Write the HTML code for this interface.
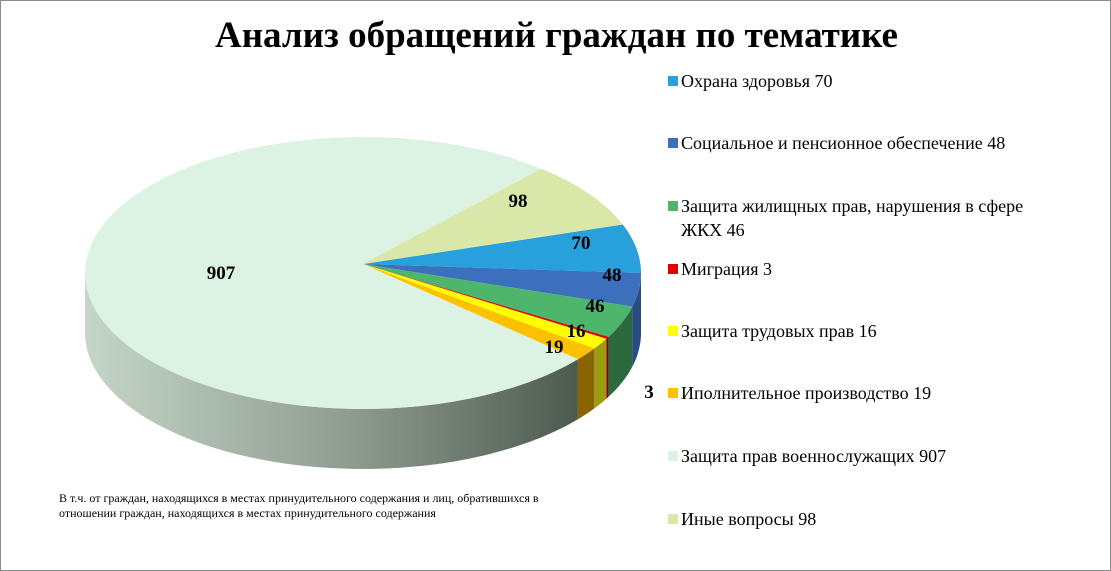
<!DOCTYPE html>
<html><head><meta charset="utf-8"><style>
body{margin:0;background:#fff}
#c{position:relative;width:1109px;height:569px;border:1px solid #8c8c8c;overflow:hidden;font-family:"Liberation Serif",serif}
.t{position:absolute;left:0;width:1111px;top:13px;text-align:center;font-weight:bold;font-size:37px}
.lg{position:absolute;left:667px;font-size:18px;line-height:24px;color:#000}
.lg i{position:absolute;left:0;top:7px;width:10px;height:10px}
.lg span{display:block;margin-left:13px;width:375px}
.fn{position:absolute;left:58px;top:490px;font-family:"Liberation Serif",serif;font-size:12px;line-height:15px}
</style></head><body><div id="c">
<div class="t">Анализ обращений граждан по тематике</div>
<svg id="s" width="1111" height="571" style="position:absolute;left:0;top:0"></svg>
<div class="lg" style="top:68px"><i style="background:#27a0dc"></i><span>Охрана здоровья 70</span></div>
<div class="lg" style="top:130px"><i style="background:#3c6fbc"></i><span>Социальное и пенсионное обеспечение 48</span></div>
<div class="lg" style="top:193px"><i style="background:#4db56c"></i><span>Защита жилищных прав, нарушения в сфере<br>ЖКХ 46</span></div>
<div class="lg" style="top:256px"><i style="background:#e00000"></i><span>Миграция 3</span></div>
<div class="lg" style="top:318px"><i style="background:#ffff00"></i><span>Защита трудовых прав 16</span></div>
<div class="lg" style="top:380px"><i style="background:#ffc000"></i><span>Иполнительное производство 19</span></div>
<div class="lg" style="top:443px"><i style="background:#dcf2e2"></i><span>Защита прав военнослужащих 907</span></div>
<div class="lg" style="top:506px"><i style="background:#d9e8a8"></i><span>Иные вопросы 98</span></div>
<div class="fn">В т.ч. от граждан, находящихся в местах принудительного содержания и лиц, обратившихся в<br>отношении граждан, находящихся в местах принудительного содержания</div>
</div>
<script>
var s=document.getElementById('s'),cx=362,cy=272,rx=278,ry=136,d=60;
var data=[[70,'#27a0dc','#1a6f9a'],[48,'#3c6fbc','#284d85'],[46,'#4db56c','#2c6a3e'],[3,'#e00000','#8a0000'],[16,'#ffff00','#9c9c10'],[19,'#ffc000','#8a6400'],[907,'#dcf2e2','g'],[98,'#d9e8a8','#8a9a60']];
var tot=0;data.forEach(function(x){tot+=x[0]});
var h='<defs><linearGradient id="g" x1="0" x2="1"><stop offset="0" stop-color="#c4d6c8"/><stop offset="0.55" stop-color="#8e9a90"/><stop offset="1" stop-color="#4d5a50"/></linearGradient></defs>';
function P(a,dy){return (cx+rx*Math.cos(a)).toFixed(1)+','+(cy+dy+ry*Math.sin(a)).toFixed(1)}
var a=-70/tot*2*Math.PI,sl=[];
data.forEach(function(x){var b=a+x[0]/tot*2*Math.PI;sl.push([a,b,x]);a=b});
sl.forEach(function(q){
 var lo=Math.max(q[0],0),hi=Math.min(q[1],Math.PI);
 var lo2=Math.max(q[0],2*Math.PI),hi2=Math.min(q[1],3*Math.PI);
 [[lo,hi],[lo2,hi2]].forEach(function(r){if(r[1]<=r[0])return;
  var pts=[],n=40,i;for(i=0;i<=n;i++)pts.push(P(r[0]+(r[1]-r[0])*i/n,0));
  for(i=n;i>=0;i--)pts.push(P(r[0]+(r[1]-r[0])*i/n,d));
  var f=q[2][2]=='g'?'url(#g)':q[2][2];
  h+='<polygon points="'+pts.join(' ')+'" fill="'+f+'"/>';});
});
var ax=cx,ay=263;
sl.forEach(function(q){var pts=[ax+','+ay],n=60;
 for(var i=0;i<=n;i++)pts.push(P(q[0]+(q[1]-q[0])*i/n,0));
 h+='<polygon points="'+pts.join(' ')+'" fill="'+q[2][1]+'"/>';});
var L=[[98,517,206],[70,580,248],[48,611,280],[46,594,311],[16,575,336],[19,553,352],[3,648,397],[907,220,278]];
L.forEach(function(l){h+='<text x="'+l[1]+'" y="'+l[2]+'" text-anchor="middle" font-family="Liberation Serif,serif" font-weight="bold" font-size="19">'+l[0]+'</text>'});
s.innerHTML=h;
</script>
</body></html>
